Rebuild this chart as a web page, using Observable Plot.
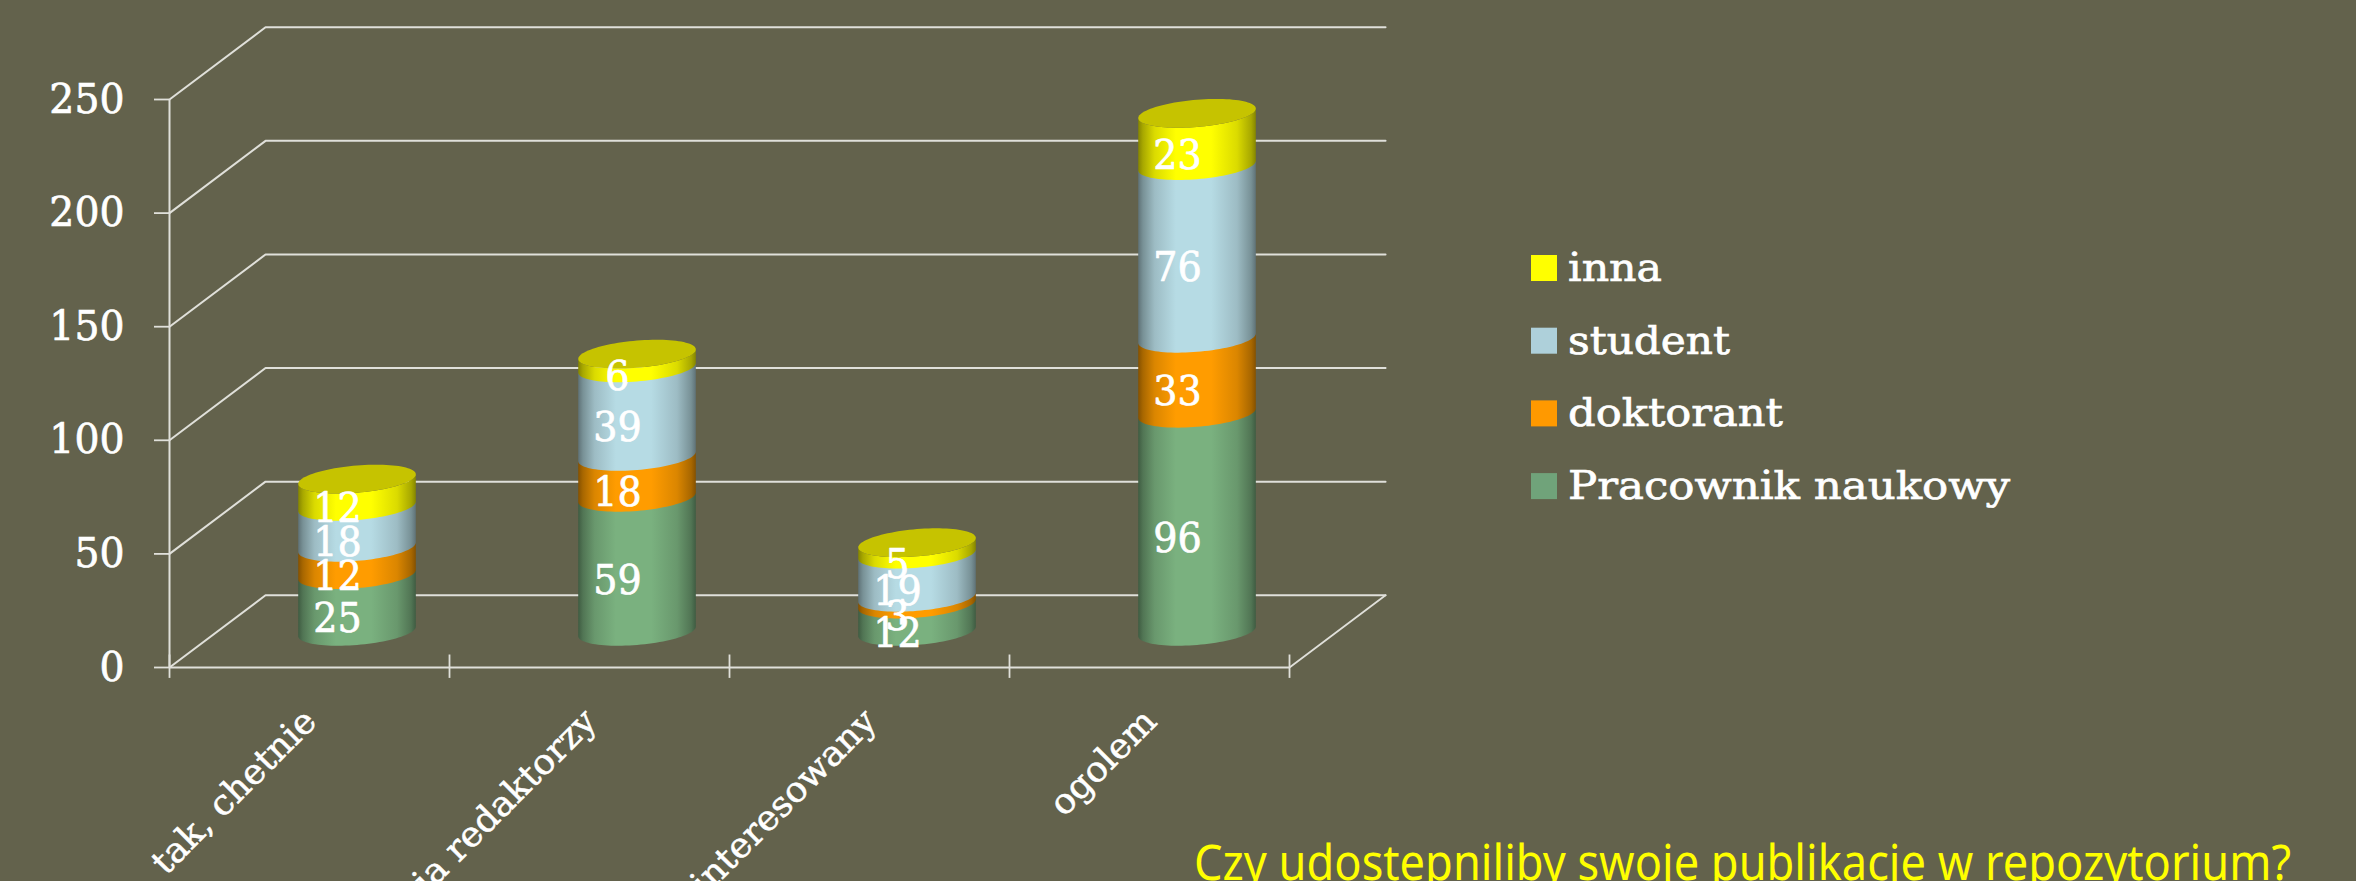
<!DOCTYPE html>
<html lang="pl">
<head>
<meta charset="utf-8">
<script src="https://cdn.jsdelivr.net/npm/d3@7"></script>
<script src="https://cdn.jsdelivr.net/npm/@observablehq/plot@0.6"></script>
<style>
html,body{margin:0;padding:0;background:#63624c;overflow:hidden;width:2356px;height:881px}
</style>
</head>
<body>
<script>
const categories = ["tak, chetnie", "ia redaktorzy", "interesowany", "ogolem"];
const seriesNames = ["Pracownik naukowy", "doktorant", "student", "inna"];
const pracownik = [25, 59, 12, 96];
const doktorant = [12, 18, 3, 33];
const student = [18, 39, 19, 76];
const inna = [12, 6, 5, 23];
const yTicks = [0, 50, 100, 150, 200, 250];
const xTicks = [0, 1, 2, 3, 4];
const titleText = "Czy udostepniliby swoje publikacje w repozytorium?";

const seriesValues = [pracownik, doktorant, student, inna];
const seriesColors = ["#7ab17f", "#ff9c00", "#b6dbe4", "#ffff00"];
const swatchColors = ["#70a37a", "#ff9900", "#aed0da", "#ffff00"];
const topColor = "#c6c300";
const lineColor = "#e0e0da";
const bg = "#63624c";

// Oblique depth of the fake 3D box, in data units (one category wide, value units tall).
const depthX = 0.343, depthY = 31.8, radius = 0.21;

const rows = seriesNames.flatMap((s, k) =>
  categories.map((c, i) => ({series: s, category: c, pos: i + 0.5, value: seriesValues[k][i]})));

const wallLines = yTicks.flatMap(v => [
  {v, x: 0, y: v},
  {v, x: depthX, y: v + depthY},
  {v, x: 4 + depthX, y: v + depthY}
]);
const floorRight = [{x: 4, y: 0}, {x: 4 + depthX, y: depthY}];

function shade(hex, k) {
  const c = d3.rgb(hex);
  return d3.rgb(c.r * k, c.g * k, c.b * k).formatHex();
}

function cylinders(index, {x, y}) {
  const g = d3.create("svg:g").attr("aria-label", "cylinders");
  const defs = g.append("defs");
  const stops = [[0, .52], [.04, .66], [.14, .86], [.32, 1], [.62, 1], [.84, .86], [.96, .66], [1, .52]];
  seriesColors.forEach((col, k) => {
    const lg = defs.append("linearGradient").attr("id", "cyl" + k).attr("x1", 0).attr("x2", 1).attr("y1", 0).attr("y2", 0);
    stops.forEach(([o, m]) => lg.append("stop").attr("offset", o).attr("stop-color", shade(col, m)));
  });
  const shear = -0.081, b = 13.6;
  const N = 48;
  categories.forEach((c, i) => {
    const cx = x(i + 0.5 + depthX / 2);
    const a = x(radius) - x(0);
    const at = (t, yc) => [cx + a * Math.cos(t), yc + shear * a * Math.cos(t) + b * Math.sin(t)];
    let base = 15.7;
    seriesNames.forEach((s, k) => {
      const v = seriesValues[k][i];
      const y0 = y(base), y1 = y(base + v);
      const upper = d3.range(N + 1).map(j => at(Math.PI - j / N * Math.PI, y1 - (k < 3 ? 1 : 0)));
      const lower = d3.range(N + 1).map(j => at(j / N * Math.PI, y0));
      g.append("path").attr("d", d3.line()([...upper, ...lower]) + "Z").attr("fill", `url(#cyl${k})`);
      base += v;
      if (k === seriesNames.length - 1) {
        const top = d3.range(2 * N).map(j => at(j / N * Math.PI, y1));
        g.append("path").attr("d", d3.line()(top) + "Z").attr("fill", topColor);
      }
    });
  });
  return g.node();
}

function legendAndTitle() {
  const g = d3.create("svg:g").attr("aria-label", "legend").attr("text-anchor", "start");
  const order = [3, 2, 1, 0];
  const widths = [94, 162, 215, 442];
  order.forEach((k, r) => {
    const cy = 268 + r * 72.7;
    g.append("rect").attr("x", 1531).attr("y", cy - 13).attr("width", 26).attr("height", 26).attr("fill", swatchColors[k]);
    g.append("text").attr("x", 1568).attr("y", cy + 13).attr("fill", "white")
      .attr("stroke", "white").attr("stroke-width", 0.7)
      .attr("font-family", "'DejaVu Serif'").attr("font-size", 40)
      .attr("textLength", widths[r]).attr("lengthAdjust", "spacingAndGlyphs").text(seriesNames[k]);
  });
  g.append("text").attr("x", 1194).attr("y", 880).attr("fill", "#ffff00")
    .attr("font-family", "'Noto Sans'").attr("font-size", 49)
    .attr("textLength", 1097).attr("lengthAdjust", "spacingAndGlyphs").text(titleText);
  return g.node();
}

const plot = Plot.plot({
  width: 2356,
  height: 881,
  marginLeft: 169,
  marginRight: 1067,
  marginTop: 99,
  marginBottom: 214,
  style: {background: bg, color: "white", fontFamily: "'DejaVu Serif'"},
  x: {domain: [0, 4], axis: null},
  y: {domain: [0, 250], axis: null},
  marks: [
    Plot.line(wallLines, {x: "x", y: "y", z: "v", stroke: lineColor, strokeWidth: 2}),
    Plot.line(floorRight, {x: "x", y: "y", stroke: lineColor, strokeWidth: 1.8}),
    Plot.ruleX([0], {y1: 0, y2: 250, stroke: lineColor, strokeWidth: 2}),
    Plot.ruleY([0], {x1: 0, x2: 4, stroke: lineColor, strokeWidth: 2}),
    Plot.ruleX(xTicks, {y1: -4.8, y2: 5.5, stroke: lineColor, strokeWidth: 1.8}),
    Plot.axisY({
      ticks: yTicks, tickFormat: d => d, label: null, anchor: "left",
      tickSize: 15, tickPadding: 30, fontSize: 41, stroke: lineColor, strokeWidth: 1.8, fill: "white"
    }),
    cylinders,
    Plot.text(rows, Plot.stackY({
      x: "pos", y: "value", z: "series", text: d => String(d.value),
      dx: 28, dy: -20, fill: "white", stroke: "white", strokeWidth: 0.7, fontSize: 41, fontFamily: "'DejaVu Serif'"
    })),
    Plot.text(categories, {
      x: (d, i) => i + 0.5, y: () => 0, text: d => d, rotate: -45, textAnchor: "end",
      lineAnchor: "middle", dx: 1, dy: 48, fill: "white", stroke: "white", strokeWidth: 0.5, fontSize: 35, fontFamily: "'DejaVu Serif'"
    }),
    legendAndTitle
  ]
});
document.body.append(plot);

// The reference type is a stretched slab serif: adjust each text run's advance width.
d3.select(plot).selectAll("text").each(function () {
  if (this.hasAttribute("textLength")) return;
  const t = this.textContent;
  const isTick = (this.closest("g").getAttribute("aria-label") || "").includes("tick");
  const k = categories.includes(t) ? 1.03 : isTick ? 0.96 : 0.93;
  this.setAttribute("textLength", this.getComputedTextLength() * k);
  this.setAttribute("lengthAdjust", "spacingAndGlyphs");
  if (isTick) { this.setAttribute("stroke", "white"); this.setAttribute("stroke-width", 0.7); }
});
</script>
</body>
</html>
